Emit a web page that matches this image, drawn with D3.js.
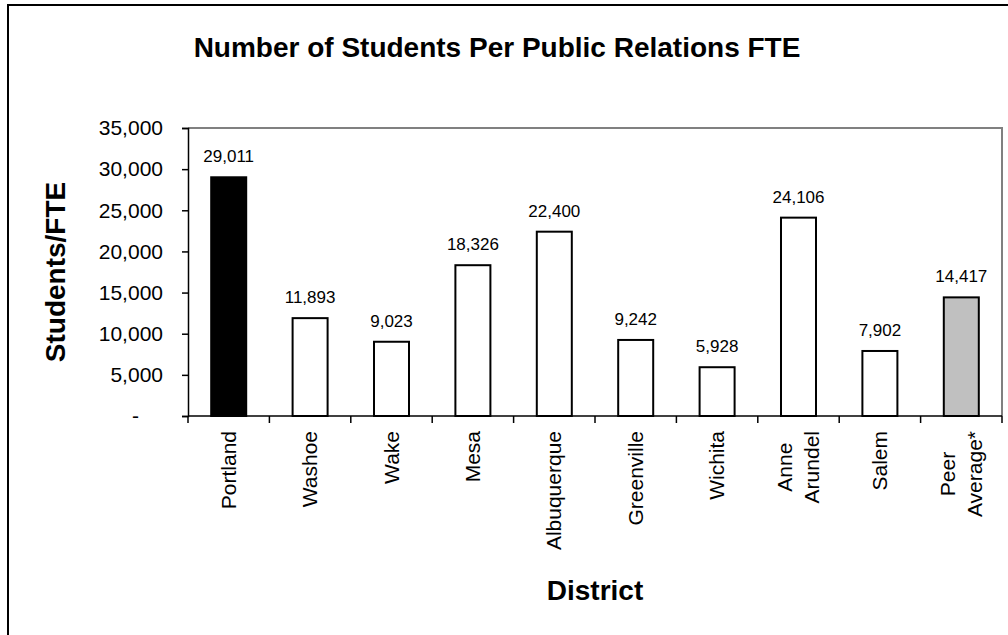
<!DOCTYPE html>
<html>
<head>
<meta charset="utf-8">
<script src="https://cdn.jsdelivr.net/npm/d3@7"></script>
<style>
	body { margin: 0; background: #fff; }
	svg text { font-family: "Liberation Sans", Arial, sans-serif; fill: #000; }
</style>
</head>
<body>
<svg id="chart" width="1008" height="635"></svg>
<script>
// chart data
let districts = ['Portland', 'Washoe', 'Wake', 'Mesa', 'Albuquerque', 'Greenville', 'Wichita', 'Anne\nArundel', 'Salem', 'Peer\nAverage*'],
	students_per_fte = [29011, 11893, 9023, 18326, 22400, 9242, 5928, 24106, 7902, 14417],
	bar_fill = ['#000000', '#ffffff', '#ffffff', '#ffffff', '#ffffff', '#ffffff', '#ffffff', '#ffffff', '#ffffff', '#c0c0c0'],
	y_ticks = [0, 5000, 10000, 15000, 20000, 25000, 30000, 35000];

let svg = d3.select('#chart'),
	plot_left = 188,
	plot_right = 1002,
	plot_top = 128,
	plot_bottom = 416;

let xScale = d3.scaleBand()
		.domain(districts)
		.range([plot_left, plot_right])
		.paddingInner(0.57)
		.paddingOuter(0.285),
	yScale = d3.scaleLinear()
		.domain([0, 35000])
		.range([plot_bottom, plot_top]),
	fmt = d3.format(',');

// outer chart frame (cropped on right and bottom in the reference)
svg.append('rect')
	.attr('x', 8)
	.attr('y', 5)
	.attr('width', 1200)
	.attr('height', 800)
	.attr('fill', 'none')
	.attr('stroke', '#000')
	.attr('stroke-width', 2);

// plot area border (top and right are gray)
svg.append('path')
	.attr('d', `M${plot_left},${plot_top}H${plot_right}V${plot_bottom}`)
	.attr('fill', 'none')
	.attr('stroke', '#808080')
	.attr('stroke-width', 2);

// title
svg.append('text')
	.attr('x', 497)
	.attr('y', 57)
	.attr('text-anchor', 'middle')
	.style('font-size', '28px')
	.style('font-weight', 'bold')
	.text('Number of Students Per Public Relations FTE');

// bars
svg.selectAll('.bar')
	.data(students_per_fte)
	.enter()
	.append('rect')
	.attr('class', 'bar')
	.attr('x', (d, i) => xScale(districts[i]))
	.attr('y', d => yScale(d))
	.attr('width', xScale.bandwidth())
	.attr('height', d => plot_bottom - yScale(d))
	.attr('fill', (d, i) => bar_fill[i])
	.attr('stroke', '#000')
	.attr('stroke-width', 2);

// value labels
svg.selectAll('.value_label')
	.data(students_per_fte)
	.enter()
	.append('text')
	.attr('class', 'value_label')
	.attr('x', (d, i) => xScale(districts[i]) + xScale.bandwidth() / 2)
	.attr('y', d => yScale(d) - 15)
	.attr('text-anchor', 'middle')
	.style('font-size', '17px')
	.text(d => fmt(d));

// y axis
let y_axis = svg.append('g')
	.attr('transform', `translate(${plot_left},0)`)
	.call(d3.axisLeft(yScale)
		.tickValues(y_ticks)
		.tickSize(6)
		.tickPadding(19)
		.tickFormat(d => d == 0 ? '-' : fmt(d)));

y_axis.select('.domain').attr('stroke', '#000').attr('stroke-width', 1.5);
y_axis.selectAll('.tick line').attr('stroke', '#000').attr('stroke-width', 1.5);
y_axis.selectAll('.tick text')
	.style('font-size', '21px')
	.style('font-family', '"Liberation Sans", Arial, sans-serif')
	.attr('dx', d => d == 0 ? -24 : 0);

// x axis line and ticks between categories
let x_tick_pos = d3.range(districts.length + 1).map(i => i == districts.length ? plot_right : xScale(districts[i]) - xScale.step() * xScale.paddingInner() / 2);

svg.append('line')
	.attr('x1', plot_left)
	.attr('x2', plot_right)
	.attr('y1', plot_bottom)
	.attr('y2', plot_bottom)
	.attr('stroke', '#000')
	.attr('stroke-width', 1.5);

svg.selectAll('.x_tick')
	.data(x_tick_pos)
	.enter()
	.append('line')
	.attr('class', 'x_tick')
	.attr('x1', d => d)
	.attr('x2', d => d)
	.attr('y1', plot_bottom)
	.attr('y2', plot_bottom + 7)
	.attr('stroke', '#000')
	.attr('stroke-width', 1.5);

// rotated category labels, lines centred on each other
let label_top = 431,
	line_gap = 27;

let label_g = svg.selectAll('.x_label')
	.data(districts)
	.enter()
	.append('g')
	.attr('class', 'x_label')
	.attr('transform', d => `translate(${xScale(d) + xScale.bandwidth() / 2},0)`);

label_g.each(function(d) {
	let g = d3.select(this),
		lines = d.split('\n'),
		texts = lines.map((line, li) => g.append('text')
			.attr('text-anchor', 'middle')
			.style('font-size', '21px')
			.text(line)),
		max_w = d3.max(texts, t => t.node().getComputedTextLength());

	texts.forEach((t, li) => {
		let off = (li - (lines.length - 1) / 2) * line_gap;
		t.attr('transform', `translate(${off + 7},${label_top + max_w / 2}) rotate(-90)`);
	});
});

// axis titles
svg.append('text')
	.attr('transform', 'translate(65,272) rotate(-90)')
	.attr('text-anchor', 'middle')
	.style('font-size', '28px')
	.style('font-weight', 'bold')
	.text('Students/FTE');

svg.append('text')
	.attr('x', (plot_left + plot_right) / 2)
	.attr('y', 600)
	.attr('text-anchor', 'middle')
	.style('font-size', '28px')
	.style('font-weight', 'bold')
	.text('District');
</script>
</body>
</html>
